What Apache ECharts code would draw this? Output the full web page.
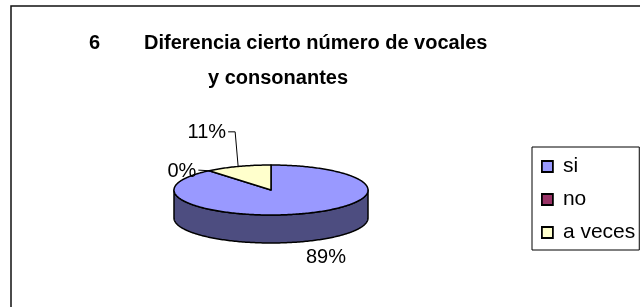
<!DOCTYPE html>
<html>
<head>
<meta charset="utf-8">
<script src="https://cdn.jsdelivr.net/npm/echarts@6/dist/echarts.min.js"></script>
<style>
html, body { margin: 0; padding: 0; background: #fff; }
#chartBox { width: 640px; height: 307px; }
</style>
</head>
<body>
<div id="chartBox"></div>
<script>
// datos del gráfico
const categories = ['si', 'no', 'a veces'];
const values = [89, 0, 11];
const percentLabels = ['89%', '0%', '11%'];

const topColors = ['#9999ff', '#993366', '#ffffcc'];
const sideColors = ['#4d4d80', '#4d1a33', '#80806a'];
const FONT = '"Liberation Sans", Arial, sans-serif';

// geometría del pastel 3D (elipse)
const pie = { cx: 271, cy: 190, rx: 97, ry: 25, depth: 28 };
// desplazamiento manual de etiquetas (como en Excel)
const labelShift = [[0, 0], [-9, 15], [-10, -18]];

const total = values.reduce((a, b) => a + b, 0);

function pt (deg, dy) {
  const r = deg * Math.PI / 180;
  return [pie.cx + pie.rx * Math.sin(r), pie.cy - pie.ry * Math.cos(r) + (dy || 0)];
}
function arc (a1, a2, dy) {
  const pts = [];
  const n = Math.max(2, Math.ceil(Math.abs(a2 - a1)));
  for (let i = 0; i <= n; i++) pts.push(pt(a1 + (a2 - a1) * i / n, dy));
  return pts;
}

function renderSlice (params, api) {
  const idx = params.seriesIndex;
  let start = 0;
  for (let i = 0; i < idx; i++) start += values[i];
  const a1 = start / total * 360;
  const a2 = (start + api.value(0)) / total * 360;
  const children = [];
  if (a2 > a1) {
    // pared lateral, solo mitad frontal
    const s1 = Math.max(a1, 90), s2 = Math.min(a2, 270);
    if (s2 > s1) {
      children.push({
        type: 'polygon', z2: 1,
        shape: { points: arc(s1, s2, 0).concat(arc(s2, s1, pie.depth)) },
        style: { fill: sideColors[idx], stroke: '#000', lineWidth: 1.5, lineJoin: 'round' }
      });
    }
    children.push({
      type: 'polygon', z2: 5,
      shape: { points: [[pie.cx, pie.cy]].concat(arc(a1, a2, 0)) },
      style: { fill: topColors[idx], stroke: '#000', lineWidth: 1.5, lineJoin: 'round' }
    });
  }
  // etiqueta
  const mid = (a1 + a2) / 2;
  const r = mid * Math.PI / 180;
  const front = Math.cos(r) < 0;
  const edge = pt(mid, front ? pie.depth : 0);
  const gap = 6;
  const sh = labelShift[idx];
  const lx = edge[0] + Math.sin(r) * gap + sh[0];
  const ly = edge[1] - Math.cos(r) * gap + sh[1];
  const right = Math.sin(r) >= 0;
  children.push({
    type: 'text', z2: 10,
    style: {
      text: percentLabels[idx], x: lx, y: ly,
      align: right ? 'left' : 'right', verticalAlign: front ? 'top' : 'bottom',
      font: '20px ' + FONT, fill: '#000'
    }
  });
  if (sh[0] || sh[1]) {
    const midY = front ? ly + 10 : ly - 11;
    const startX = right ? lx - 2 : lx + 2;
    const pts = sh[1] < -5
      ? [[startX, midY], [edge[0] - 3, midY], edge]
      : [[startX, midY], edge];
    children.push({
      type: 'polyline', z2: 10,
      shape: { points: pts },
      style: { stroke: '#000', lineWidth: 1, fill: null }
    });
  }
  return { type: 'group', children: children };
}

const myChart = echarts.init(document.getElementById('chartBox'));
const titleStyle = { fontSize: 20, fontWeight: 'bold', fontFamily: FONT, color: '#000', lineHeight: 22 };

myChart.setOption({
  animation: false,
  title: [
    { text: '6', left: 89, top: 32, padding: 0, textStyle: titleStyle },
    { text: 'Diferencia cierto número de vocales', left: 144, top: 32, padding: 0, textStyle: titleStyle },
    { text: 'y consonantes', left: 208, top: 67, padding: 0, textStyle: titleStyle }
  ],
  graphic: [{
    type: 'rect',
    shape: { x: 11, y: 6, width: 700, height: 400 },
    style: { fill: null, stroke: '#111', lineWidth: 1.5 }
  }],
  legend: {
    orient: 'vertical',
    left: 532,
    top: 147,
    padding: [9, 4, 7, 9],
    itemGap: 12,
    itemWidth: 11,
    itemHeight: 11,
    icon: 'rect',
    selectedMode: false,
    borderColor: '#000',
    borderWidth: 1,
    itemStyle: { borderColor: '#000', borderWidth: 1.8 },
    textStyle: { fontSize: 21, fontFamily: FONT, color: '#000', padding: [0, 0, 0, 5], lineHeight: 21 },
    data: categories
  },
  series: categories.map(function (name, i) {
    return {
      name: name,
      type: 'custom',
      coordinateSystem: 'none',
      itemStyle: { color: topColors[i] },
      renderItem: renderSlice,
      data: [[values[i]]]
    };
  })
});
</script>
</body>
</html>
